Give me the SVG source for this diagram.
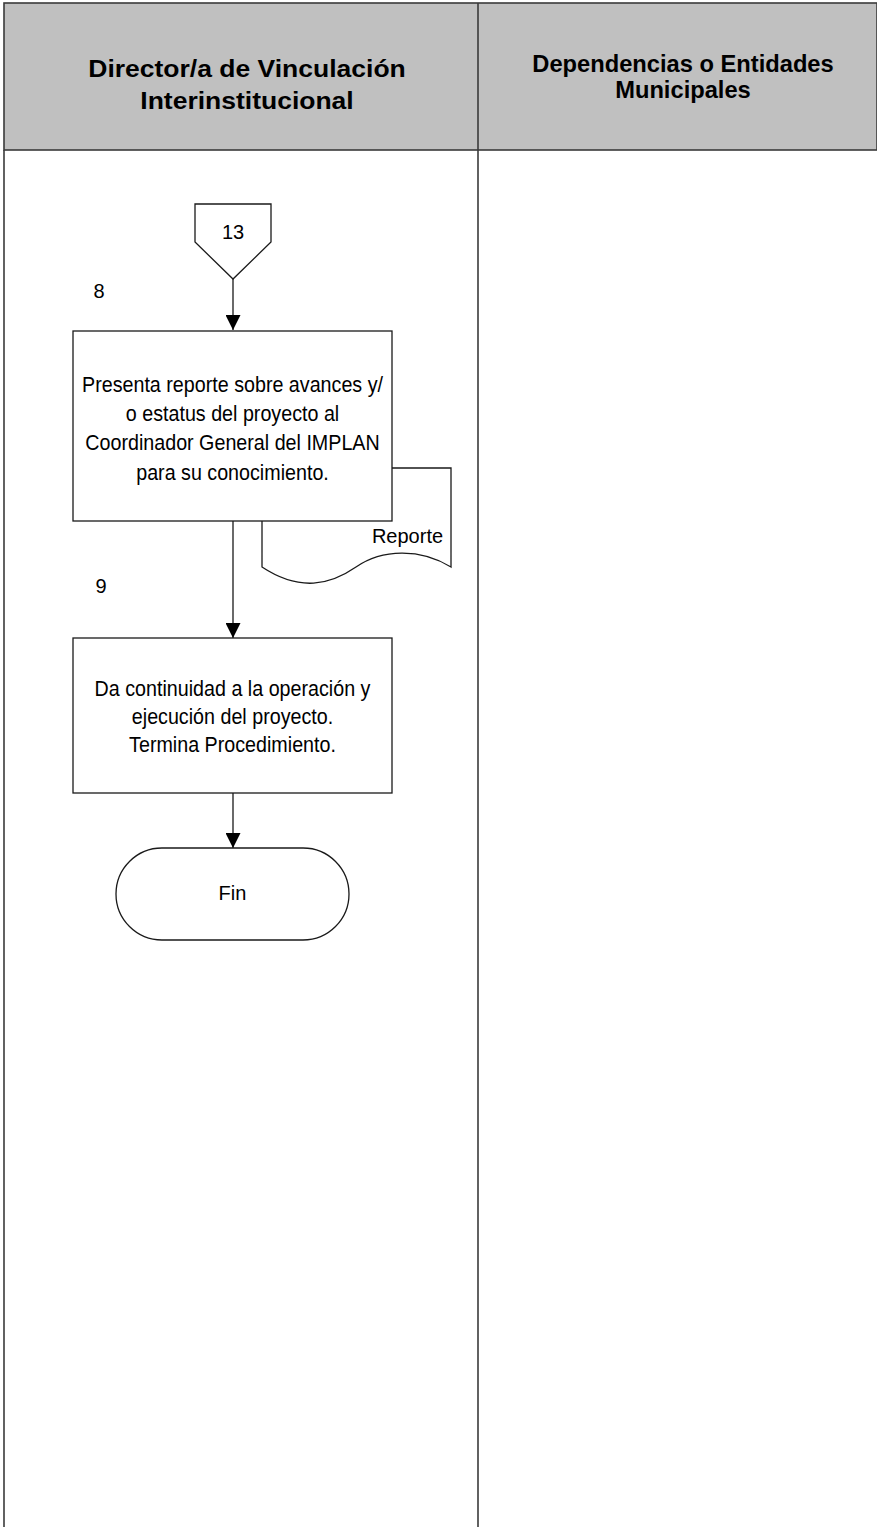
<svg xmlns="http://www.w3.org/2000/svg" width="877" height="1527" viewBox="0 0 877 1527">
<defs>
<style>
.lane{fill:none;stroke:#3a3a3a;stroke-width:1.6}
.hdr{fill:#c0c0c0;stroke:#3a3a3a;stroke-width:1.6}
.shape{fill:#ffffff;stroke:#1a1a1a;stroke-width:1.3}
.conn{fill:none;stroke:#1a1a1a;stroke-width:1.3}
.t{font-family:"Liberation Sans",Arial,sans-serif;fill:#000;text-anchor:middle}
.hb{font-weight:bold}
</style>
<marker id="arr" markerUnits="userSpaceOnUse" markerWidth="15" markerHeight="15" refX="15" refY="7.5" orient="auto">
<path d="M0,0 L15,7.5 L0,15 Z" fill="#000"/>
</marker>
</defs>
<rect width="877" height="1527" fill="#ffffff"/>
<g id="lanes">
<rect class="hdr" x="4" y="3" width="873" height="147"/>
<line class="lane" x1="4" y1="150" x2="4" y2="1527"/>
<line class="lane" x1="478" y1="3" x2="478" y2="1527"/>
<text class="t hb" font-size="26.5" transform="translate(247,77) scale(1,0.92)"><tspan x="0" y="0">Director/a de Vinculación</tspan><tspan x="0" y="34.8">Interinstitucional</tspan></text>
<text class="t hb" font-size="23.7" x="683" y="72">Dependencias o Entidades</text>
<text class="t hb" font-size="23.7" x="683" y="98">Municipales</text>
</g>
<g id="connectors">
<line class="conn" x1="233" y1="279" x2="233" y2="330" marker-end="url(#arr)"/>
<line class="conn" x1="233" y1="521" x2="233" y2="638" marker-end="url(#arr)"/>
<line class="conn" x1="233" y1="793" x2="233" y2="848" marker-end="url(#arr)"/>
</g>
<g id="connector13">
<path class="shape" d="M195,204 H271 V242 L233,279 L195,242 Z"/>
<text class="t" font-size="20" x="233" y="238.5">13</text>
</g>
<g id="label8"><text class="t" font-size="20" x="99" y="298">8</text></g>
<g id="label9"><text class="t" font-size="20" x="101" y="593">9</text></g>
<g id="doc-reporte">
<path class="shape" d="M262,468 H451 V567 C420,548 382,549 356,567 C330,585 300,592 262,567 Z"/>
<text class="t" font-size="20" x="407.5" y="543">Reporte</text>
</g>
<g id="step8">
<rect class="shape" x="73" y="331" width="319" height="190"/>
<text class="t" font-size="19.7" transform="translate(232.5,392) scale(1,1.15)"><tspan x="0" y="0">Presenta reporte sobre avances y/</tspan><tspan x="0" y="25.4">o estatus del proyecto al</tspan><tspan x="0" y="50.8">Coordinador General del IMPLAN</tspan><tspan x="0" y="76.2">para su conocimiento.</tspan></text>
</g>
<g id="step9">
<rect class="shape" x="73" y="638" width="319" height="155"/>
<text class="t" font-size="19.7" transform="translate(232.5,696) scale(1,1.15)"><tspan x="0" y="0">Da continuidad a la operación y</tspan><tspan x="0" y="24.35">ejecución del proyecto.</tspan><tspan x="0" y="48.7">Termina Procedimiento.</tspan></text>
</g>
<g id="fin">
<rect class="shape" x="116" y="848" width="233" height="92" rx="46" ry="46"/>
<text class="t" font-size="20" x="232.5" y="900">Fin</text>
</g>
</svg>
